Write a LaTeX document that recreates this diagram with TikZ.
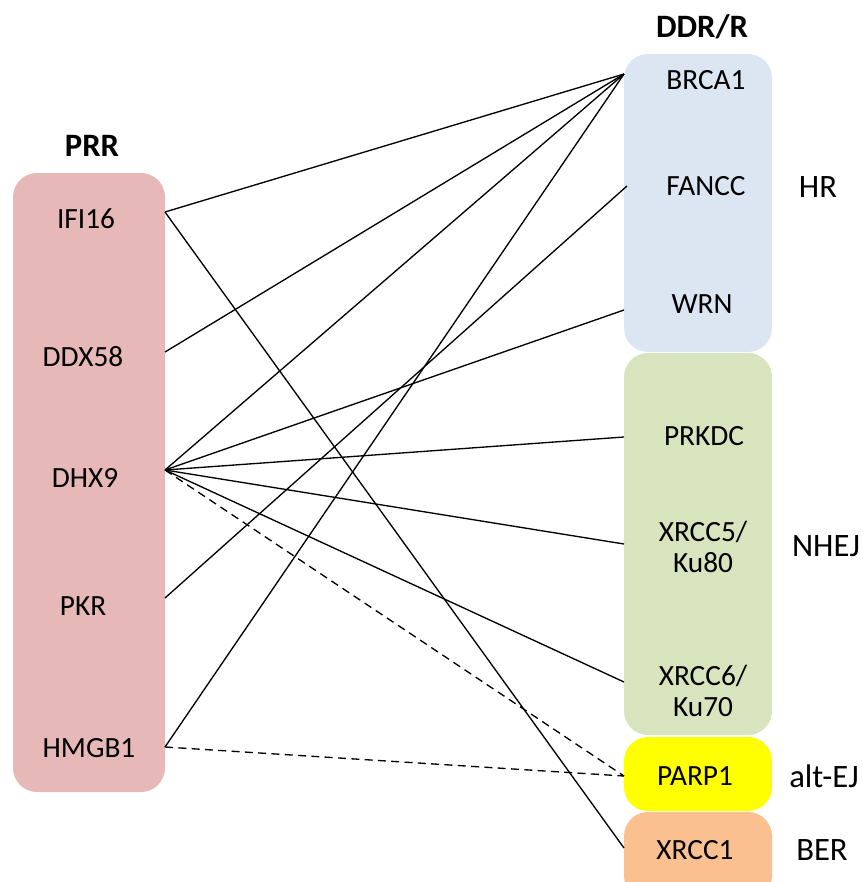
\documentclass[tikz,border=0pt]{standalone}
\usepackage{fontspec}
\setmainfont{Carlito}
\definecolor{prrpink}{HTML}{E6B8B7}
\definecolor{hrblue}{HTML}{DCE6F2}
\definecolor{nhejgreen}{HTML}{D7E4BD}
\definecolor{altyellow}{HTML}{FFFF00}
\definecolor{berorange}{HTML}{FAC090}
\begin{document}
\begin{tikzpicture}[x=0.75pt,y=-0.75pt,
  lbl/.style={inner sep=0pt,font=\fontsize{22}{23.5}\selectfont,align=center},
  plbl/.style={inner sep=0pt,font=\fontsize{24.5}{26}\selectfont},
  head/.style={inner sep=0pt,font=\fontsize{24.5}{26}\selectfont\bfseries},
  boxr/.style={rounded corners=18pt},
  link/.style={line width=1pt,black},
  dlink/.style={line width=1pt,black,dash pattern=on 6pt off 4pt}]
\useasboundingbox (0,0) rectangle (863,882);
\begin{scope}
\clip (0,0) rectangle (863,882);
% boxes
\fill[prrpink,boxr] (13,173) rectangle (165,792);
\fill[hrblue,boxr] (624,54) rectangle (772,352);
\fill[nhejgreen,boxr] (624,353) rectangle (772,735);
\fill[altyellow,boxr] (624,737) rectangle (772,811);
\fill[berorange,boxr] (624,812) rectangle (772,900);
\end{scope}
% headers
\node[head] (prr) at (92,146) {PRR};
\node[head] (ddr) at (702,27) {DDR/R};
% left labels
\node[lbl] (ifi16) at (86,219) {IFI16};
\node[lbl] (ddx58) at (83,357) {DDX58};
\node[lbl] (dhx9) at (85,478) {DHX9};
\node[lbl] (pkr) at (83,606) {PKR};
\node[lbl] (hmgb1) at (89,748) {HMGB1};
% right labels
\node[lbl] (brca1) at (706,80) {BRCA1};
\node[lbl] (fancc) at (706,186) {FANCC};
\node[lbl] (wrn) at (702,304) {WRN};
\node[lbl] (prkdc) at (704,436) {PRKDC};
\node[lbl] (xrcc5) at (703,547) {XRCC5/\\Ku80};
\node[lbl] (xrcc6) at (703,691) {XRCC6/\\Ku70};
\node[lbl] (parp1) at (695,776) {PARP1};
\node[lbl] (xrcc1) at (695,850) {XRCC1};
% pathway labels
\node[plbl] (hr) at (818,187) {HR};
\node[plbl] (nhej) at (826,546) {NHEJ};
\node[plbl] (altej) at (824,776) {alt-EJ};
\node[plbl] (ber) at (822,850) {BER};
% connector end points
\coordinate (pIFI16) at (165,212);
\coordinate (pDDX58) at (165,352);
\coordinate (pDHX9) at (165,470);
\coordinate (pPKR) at (165,598);
\coordinate (pHMGB1) at (165,747);
\coordinate (pBRCA1) at (624,74);
\coordinate (pFANCC) at (627,186);
\coordinate (pWRN) at (624,310);
\coordinate (pPRKDC) at (624,437);
\coordinate (pXRCC5) at (624,544);
\coordinate (pXRCC6) at (624,682);
\coordinate (pPARP1) at (624,776);
\coordinate (pXRCC1) at (624,848);
% connectors
\draw[link] (pIFI16) -- (pBRCA1);
\draw[link] (pIFI16) -- (pXRCC1);
\draw[link] (pDDX58) -- (pBRCA1);
\draw[link] (pDHX9) -- (pBRCA1);
\draw[link] (pDHX9) -- (pWRN);
\draw[link] (pDHX9) -- (pPRKDC);
\draw[link] (pDHX9) -- (pXRCC5);
\draw[link] (pDHX9) -- (pXRCC6);
\draw[dlink] (pDHX9) -- (pPARP1);
\draw[link] (pPKR) -- (pFANCC);
\draw[link] (pHMGB1) -- (pBRCA1);
\draw[dlink] (pHMGB1) -- (pPARP1);
\end{tikzpicture}
\end{document}
